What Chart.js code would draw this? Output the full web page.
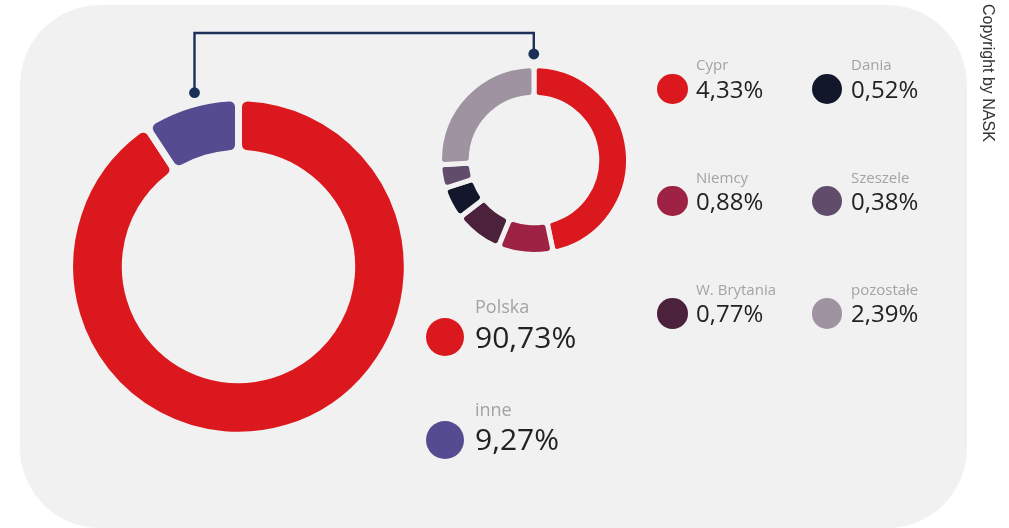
<!DOCTYPE html>
<html><head><meta charset="utf-8">
<script src="https://cdn.jsdelivr.net/npm/chart.js@4/dist/chart.umd.min.js"></script>
<style>
html,body{margin:0;padding:0;background:#fff;width:1009px;height:528px;overflow:hidden;font-family:"Open Sans",sans-serif;}
#bg{position:absolute;left:20px;top:5px;width:947px;height:523px;background:#f1f1f1;border-radius:80px;}
canvas{position:absolute;}
.txt{position:absolute;white-space:nowrap;line-height:1;}
.dot{position:absolute;border-radius:50%;}
#copy{position:absolute;left:996px;top:4px;transform-origin:0 0;transform:rotate(90deg);font-family:"Liberation Sans",Arial,sans-serif;font-size:16px;line-height:1;color:#333;white-space:nowrap;}
svg{position:absolute;left:0;top:0;}
</style></head><body>
<div id="bg"></div>
<canvas id="big" width="361" height="361" style="left:58px;top:86px;width:361px;height:361px"></canvas>
<canvas id="small" width="200" height="200" style="left:434px;top:60px;width:200px;height:200px"></canvas>
<svg width="1009" height="528">
  <polyline points="194.5,92.7 194.5,33 533.8,33 533.8,54" fill="none" stroke="#1b2f58" stroke-width="2.4"/>
  <circle cx="194.5" cy="92.7" r="5.4" fill="#1b2f58"/>
  <circle cx="533.8" cy="54" r="5.4" fill="#1b2f58"/>
</svg>
<div id="legend"></div>
<div id="copy">Copyright by NASK</div>
<script>
const mainLabels = ['Polska', 'inne'];
const mainValues = [90.73, 9.27];
const mainColors = ['#db181d', '#544b91'];

const detailLabels = ['Cypr', 'Niemcy', 'W. Brytania', 'Dania', 'Szeszele', 'pozostałe'];
const detailValues = [4.33, 0.88, 0.77, 0.52, 0.38, 2.39];
const detailColors = ['#db181d', '#9e2243', '#4b213b', '#13172b', '#614d6b', '#9f92a1'];

const BG = '#f1f1f1';
const fmt = v => v.toFixed(2).replace('.', ',') + '%';

function doughnut(id, labels, values, colors, radius, cutout, bw, br) {
  return new Chart(document.getElementById(id), {
    type: 'doughnut',
    data: {
      labels: labels,
      datasets: [{
        data: values,
        backgroundColor: colors,
        borderColor: BG,
        borderWidth: bw,
        borderRadius: br,
        hoverOffset: 0
      }]
    },
    options: {
      responsive: false,
      animation: false,
      devicePixelRatio: 1,
      events: [],
      radius: radius,
      cutout: cutout,
      rotation: 0,
      layout: { padding: 0 },
      plugins: { legend: { display: false }, tooltip: { enabled: false }, title: { display: false } }
    }
  });
}

doughnut('big', mainLabels, mainValues, mainColors, 168.8, '67.06%', 7, 9);
doughnut('small', detailLabels, detailValues, detailColors, 94.5, '66.45%', 5, 5);

const legend = document.getElementById('legend');
function addItem(x, cx, cy, r, color, label, value, labelBase, labelSize, valueBase, valueSize) {
  const d = document.createElement('div');
  d.className = 'dot';
  d.style.cssText = `left:${cx - r}px;top:${cy - r}px;width:${2 * r}px;height:${2 * r}px;background:${color};`;
  legend.appendChild(d);
  const l = document.createElement('div');
  l.className = 'txt';
  l.textContent = label;
  l.style.cssText = `left:${x}px;top:${labelBase - 0.888 * labelSize}px;font-size:${labelSize}px;color:#a3a3a3;`;
  legend.appendChild(l);
  const v = document.createElement('div');
  v.className = 'txt';
  v.textContent = value;
  v.style.cssText = `left:${x}px;top:${valueBase - 0.888 * valueSize}px;font-size:${valueSize}px;color:#222;`;
  legend.appendChild(v);
}

// main legend
const mainRows = [[313, 348.3, 337], [416, 451, 440]];
mainLabels.forEach((lab, i) => {
  const [lb, vb, cy] = mainRows[i];
  addItem(475, 445, cy, 19, mainColors[i], lab, fmt(mainValues[i]), lb, 18, vb, 30);
});

// detail legend: two columns of three
detailLabels.forEach((lab, i) => {
  const col = Math.floor(i / 3), row = i % 3;
  const x = col === 0 ? 696 : 851;
  const cx = col === 0 ? 672.5 : 827;
  const dy = row * 112.2;
  addItem(x, cx, 89 + dy, 15.3, detailColors[i], lab, fmt(detailValues[i]), 70.7 + dy, 15, 98.3 + dy, 24);
});
</script>
</body></html>
